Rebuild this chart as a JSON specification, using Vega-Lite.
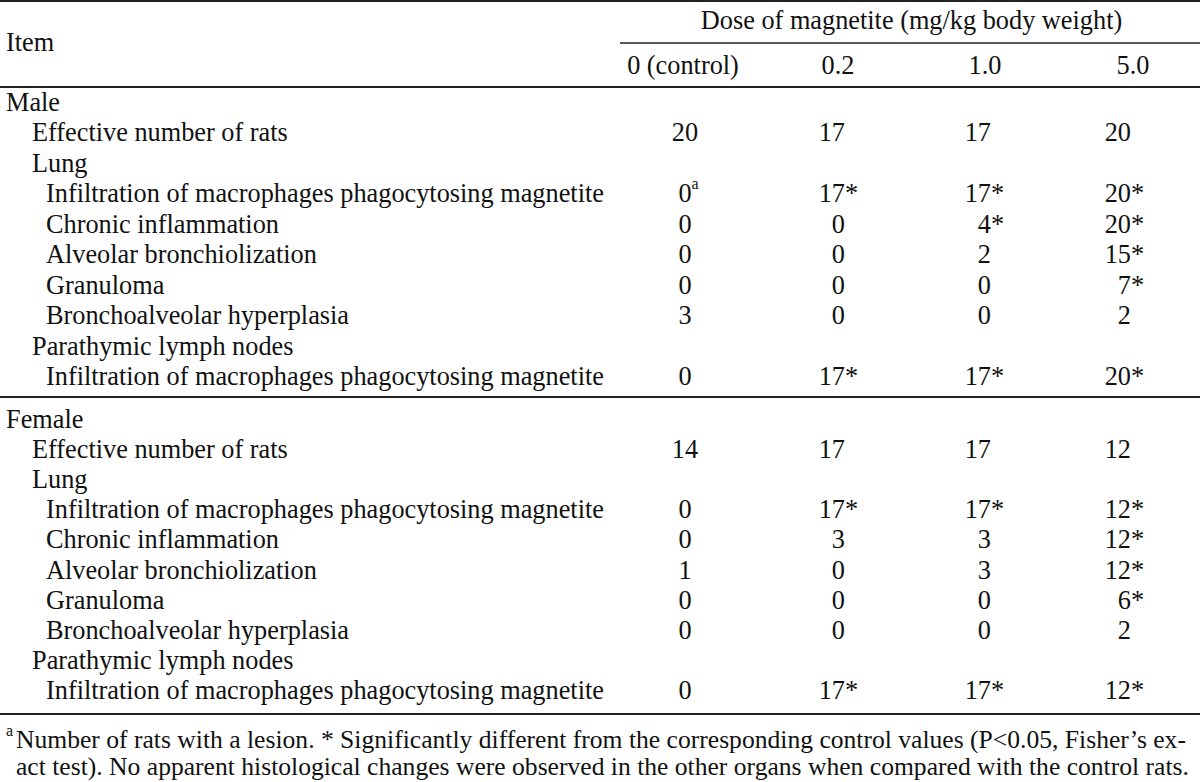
{
  "$schema": "https://vega.github.io/schema/vega-lite/v6.json",
  "width": 1200,
  "height": 782,
  "padding": 0,
  "autosize": {"type": "none"},
  "background": "white",
  "config": {
    "view": {"stroke": null},
    "text": {"font": "Liberation Serif", "fontSize": 26.3, "color": "#111111", "baseline": "middle"}
  },
  "datasets": {
    "rules": [{"row": -1.5}, {"row": 0.5}, {"row": 10.5}, {"row": 20.5}],
    "labels": [
      {"row": -0.5, "level": 0, "label": "Item"},
      {"row": 1, "level": 0, "label": "Male"},
      {"row": 2, "level": 1, "label": "Effective number of rats"},
      {"row": 3, "level": 1, "label": "Lung"},
      {"row": 4, "level": 2, "label": "Infiltration of macrophages phagocytosing magnetite"},
      {"row": 5, "level": 2, "label": "Chronic inflammation"},
      {"row": 6, "level": 2, "label": "Alveolar bronchiolization"},
      {"row": 7, "level": 2, "label": "Granuloma"},
      {"row": 8, "level": 2, "label": "Bronchoalveolar hyperplasia"},
      {"row": 9, "level": 1, "label": "Parathymic lymph nodes"},
      {"row": 10, "level": 2, "label": "Infiltration of macrophages phagocytosing magnetite"},
      {"row": 11, "level": 0, "label": "Female"},
      {"row": 12, "level": 1, "label": "Effective number of rats"},
      {"row": 13, "level": 1, "label": "Lung"},
      {"row": 14, "level": 2, "label": "Infiltration of macrophages phagocytosing magnetite"},
      {"row": 15, "level": 2, "label": "Chronic inflammation"},
      {"row": 16, "level": 2, "label": "Alveolar bronchiolization"},
      {"row": 17, "level": 2, "label": "Granuloma"},
      {"row": 18, "level": 2, "label": "Bronchoalveolar hyperplasia"},
      {"row": 19, "level": 1, "label": "Parathymic lymph nodes"},
      {"row": 20, "level": 2, "label": "Infiltration of macrophages phagocytosing magnetite"}
    ],
    "doses": [
      {"row": 0, "c": 1, "label": "0 (control)"},
      {"row": 0, "c": 2, "label": "0.2"},
      {"row": 0, "c": 3, "label": "1.0"},
      {"row": 0, "c": 4, "label": "5.0"}
    ],
    "cells": [
      {"row": 2, "c": 1, "n": "20", "sig": "", "note": ""},
      {"row": 2, "c": 2, "n": "17", "sig": "", "note": ""},
      {"row": 2, "c": 3, "n": "17", "sig": "", "note": ""},
      {"row": 2, "c": 4, "n": "20", "sig": "", "note": ""},
      {"row": 4, "c": 1, "n": "0", "sig": "", "note": "a"},
      {"row": 4, "c": 2, "n": "17", "sig": "*", "note": ""},
      {"row": 4, "c": 3, "n": "17", "sig": "*", "note": ""},
      {"row": 4, "c": 4, "n": "20", "sig": "*", "note": ""},
      {"row": 5, "c": 1, "n": "0", "sig": "", "note": ""},
      {"row": 5, "c": 2, "n": "0", "sig": "", "note": ""},
      {"row": 5, "c": 3, "n": "4", "sig": "*", "note": ""},
      {"row": 5, "c": 4, "n": "20", "sig": "*", "note": ""},
      {"row": 6, "c": 1, "n": "0", "sig": "", "note": ""},
      {"row": 6, "c": 2, "n": "0", "sig": "", "note": ""},
      {"row": 6, "c": 3, "n": "2", "sig": "", "note": ""},
      {"row": 6, "c": 4, "n": "15", "sig": "*", "note": ""},
      {"row": 7, "c": 1, "n": "0", "sig": "", "note": ""},
      {"row": 7, "c": 2, "n": "0", "sig": "", "note": ""},
      {"row": 7, "c": 3, "n": "0", "sig": "", "note": ""},
      {"row": 7, "c": 4, "n": "7", "sig": "*", "note": ""},
      {"row": 8, "c": 1, "n": "3", "sig": "", "note": ""},
      {"row": 8, "c": 2, "n": "0", "sig": "", "note": ""},
      {"row": 8, "c": 3, "n": "0", "sig": "", "note": ""},
      {"row": 8, "c": 4, "n": "2", "sig": "", "note": ""},
      {"row": 10, "c": 1, "n": "0", "sig": "", "note": ""},
      {"row": 10, "c": 2, "n": "17", "sig": "*", "note": ""},
      {"row": 10, "c": 3, "n": "17", "sig": "*", "note": ""},
      {"row": 10, "c": 4, "n": "20", "sig": "*", "note": ""},
      {"row": 12, "c": 1, "n": "14", "sig": "", "note": ""},
      {"row": 12, "c": 2, "n": "17", "sig": "", "note": ""},
      {"row": 12, "c": 3, "n": "17", "sig": "", "note": ""},
      {"row": 12, "c": 4, "n": "12", "sig": "", "note": ""},
      {"row": 14, "c": 1, "n": "0", "sig": "", "note": ""},
      {"row": 14, "c": 2, "n": "17", "sig": "*", "note": ""},
      {"row": 14, "c": 3, "n": "17", "sig": "*", "note": ""},
      {"row": 14, "c": 4, "n": "12", "sig": "*", "note": ""},
      {"row": 15, "c": 1, "n": "0", "sig": "", "note": ""},
      {"row": 15, "c": 2, "n": "3", "sig": "", "note": ""},
      {"row": 15, "c": 3, "n": "3", "sig": "", "note": ""},
      {"row": 15, "c": 4, "n": "12", "sig": "*", "note": ""},
      {"row": 16, "c": 1, "n": "1", "sig": "", "note": ""},
      {"row": 16, "c": 2, "n": "0", "sig": "", "note": ""},
      {"row": 16, "c": 3, "n": "3", "sig": "", "note": ""},
      {"row": 16, "c": 4, "n": "12", "sig": "*", "note": ""},
      {"row": 17, "c": 1, "n": "0", "sig": "", "note": ""},
      {"row": 17, "c": 2, "n": "0", "sig": "", "note": ""},
      {"row": 17, "c": 3, "n": "0", "sig": "", "note": ""},
      {"row": 17, "c": 4, "n": "6", "sig": "*", "note": ""},
      {"row": 18, "c": 1, "n": "0", "sig": "", "note": ""},
      {"row": 18, "c": 2, "n": "0", "sig": "", "note": ""},
      {"row": 18, "c": 3, "n": "0", "sig": "", "note": ""},
      {"row": 18, "c": 4, "n": "2", "sig": "", "note": ""},
      {"row": 20, "c": 1, "n": "0", "sig": "", "note": ""},
      {"row": 20, "c": 2, "n": "17", "sig": "*", "note": ""},
      {"row": 20, "c": 3, "n": "17", "sig": "*", "note": ""},
      {"row": 20, "c": 4, "n": "12", "sig": "*", "note": ""}
    ],
    "footer": [
      {"row": 21, "note": "a", "text": "Number of rats with a lesion. * Significantly different from the corresponding control values (P<0.05, Fisher\u2019s ex-"},
      {"row": 22, "note": "", "text": "act test). No apparent histological changes were observed in the other organs when compared with the control rats."}
    ]
  },
  "layer": [
    {
      "data": {"name": "rules"},
      "mark": {"type": "rule", "stroke": "#222222", "strokeWidth": 2},
      "encoding": {
        "y": {"field": "row", "type": "quantitative", "axis": null,
              "scale": {"domain": [-1.5, -1, -0.5, 0, 0.5, 1, 10, 10.5, 11, 20, 20.5, 21, 22], "range": [1, 21, 43, 66, 87, 103, 377, 397, 420, 691, 714, 740, 767], "nice": false, "zero": false}}
      }
    },
    {
      "data": {"values": [{"row": -0.5}]},
      "mark": {"type": "rule", "stroke": "#222222", "strokeWidth": 1.6},
      "encoding": {
        "y": {"field": "row", "type": "quantitative", "axis": null},
        "x": {"datum": 0.5, "type": "quantitative", "axis": null,
              "scale": {"domain": [0.5, 1, 2, 3, 4, 4.5], "range": [620, 685, 845, 991, 1131, 1200], "nice": false, "zero": false}},
        "x2": {"datum": 4.5}
      }
    },
    {
      "data": {"name": "labels"},
      "mark": {"type": "text", "align": "left"},
      "encoding": {
        "y": {"field": "row", "type": "quantitative", "axis": null},
        "x": {"field": "level", "type": "quantitative", "axis": null,
              "scale": {"domain": [0, 1, 2], "range": [6, 32, 46], "nice": false, "zero": false}},
        "text": {"field": "label"}
      }
    },
    {
      "data": {"values": [{"row": -1, "label": "Dose of magnetite (mg/kg body weight)"}]},
      "mark": {"type": "text", "align": "center"},
      "encoding": {
        "y": {"field": "row", "type": "quantitative", "axis": null},
        "x": {"datum": 2.5, "type": "quantitative", "axis": null,
              "scale": {"domain": [0.5, 1, 2, 3, 4, 4.5], "range": [620, 683, 838, 985, 1133, 1200], "nice": false, "zero": false}},
        "text": {"field": "label"}
      }
    },
    {
      "data": {"name": "doses"},
      "mark": {"type": "text", "align": "center"},
      "encoding": {
        "y": {"field": "row", "type": "quantitative", "axis": null},
        "x": {"field": "c", "type": "quantitative", "axis": null,
              "scale": {"domain": [1, 2, 3, 4], "range": [683, 838, 985, 1133], "nice": false, "zero": false}},
        "text": {"field": "label"}
      }
    },
    {
      "data": {"name": "cells"},
      "transform": [{"filter": "datum.c == 1"}],
      "mark": {"type": "text", "align": "center"},
      "encoding": {
        "y": {"field": "row", "type": "quantitative", "axis": null},
        "x": {"field": "c", "type": "quantitative", "axis": null,
              "scale": {"domain": [1, 2, 3, 4], "range": [685, 845, 991, 1131], "nice": false, "zero": false}},
        "text": {"field": "n"}
      }
    },
    {
      "data": {"name": "cells"},
      "transform": [{"filter": "datum.note != ''"}],
      "mark": {"type": "text", "align": "left", "fontSize": 16, "dx": 6.5, "dy": -10},
      "encoding": {
        "y": {"field": "row", "type": "quantitative", "axis": null},
        "x": {"field": "c", "type": "quantitative", "axis": null,
              "scale": {"domain": [1, 2, 3, 4], "range": [685, 845, 991, 1131], "nice": false, "zero": false}},
        "text": {"field": "note"}
      }
    },
    {
      "data": {"name": "cells"},
      "transform": [{"filter": "datum.c > 1"}],
      "mark": {"type": "text", "align": "right"},
      "encoding": {
        "y": {"field": "row", "type": "quantitative", "axis": null},
        "x": {"field": "c", "type": "quantitative", "axis": null,
              "scale": {"domain": [1, 2, 3, 4], "range": [685, 845, 991, 1131], "nice": false, "zero": false}},
        "text": {"field": "n"}
      }
    },
    {
      "data": {"name": "cells"},
      "transform": [{"filter": "datum.sig != ''"}],
      "mark": {"type": "text", "align": "left"},
      "encoding": {
        "y": {"field": "row", "type": "quantitative", "axis": null},
        "x": {"field": "c", "type": "quantitative", "axis": null,
              "scale": {"domain": [1, 2, 3, 4], "range": [685, 845, 991, 1131], "nice": false, "zero": false}},
        "text": {"field": "sig"}
      }
    },
    {
      "data": {"name": "footer"},
      "mark": {"type": "text", "align": "left", "fontSize": 25.6, "dx": 10},
      "encoding": {
        "y": {"field": "row", "type": "quantitative", "axis": null},
        "x": {"datum": 0, "type": "quantitative", "axis": null,
              "scale": {"domain": [0, 1, 2], "range": [6, 32, 46], "nice": false, "zero": false}},
        "text": {"field": "text"}
      }
    },
    {
      "data": {"name": "footer"},
      "transform": [{"filter": "datum.note != ''"}],
      "mark": {"type": "text", "align": "left", "fontSize": 16, "dy": -9},
      "encoding": {
        "y": {"field": "row", "type": "quantitative", "axis": null},
        "x": {"datum": 0, "type": "quantitative", "axis": null,
              "scale": {"domain": [0, 1, 2], "range": [6, 32, 46], "nice": false, "zero": false}},
        "text": {"field": "note"}
      }
    }
  ],
  "resolve": {"scale": {"x": "independent"}}
}
